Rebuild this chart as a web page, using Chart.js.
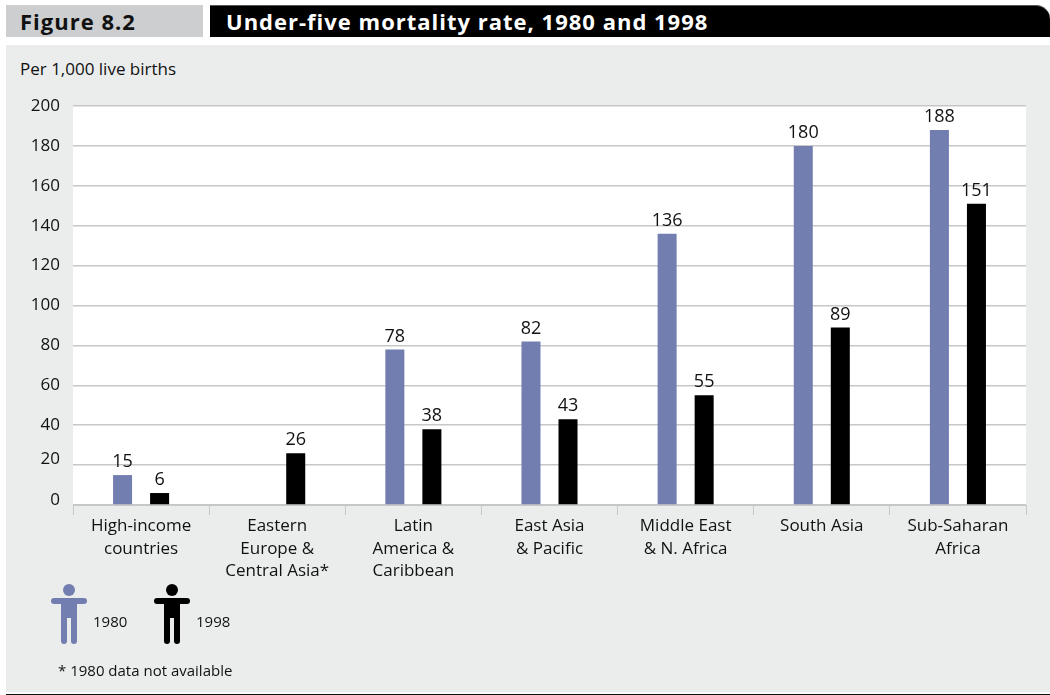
<!DOCTYPE html>
<html>
<head>
<meta charset="utf-8">
<title>Under-five mortality rate, 1980 and 1998</title>
<script src="https://cdn.jsdelivr.net/npm/chart.js@4"></script>
<style>
html,body{margin:0;padding:0;background:#fff}
body{width:1050px;height:695px;position:relative;overflow:hidden;font-family:"Open Sans",sans-serif;color:#111}
.abs{position:absolute}
#figbox{left:6px;top:5px;width:197px;height:32px;background:#cdced0;font-weight:700;font-size:22px;letter-spacing:1px;line-height:32px;text-indent:14px;color:#111}
#titlebox{left:210px;top:5px;width:840px;height:32px;background:#000;border-top:1px solid #555;box-sizing:border-box;border-top-right-radius:14px;font-weight:700;font-size:22px;letter-spacing:1px;line-height:31px;text-indent:16px;color:#fff}
#panel{left:6px;top:45px;width:1044px;height:647px;background:#ebeded}
#rule{left:6px;top:694px;width:1044px;height:1px;background:#111}
#unit{left:20px;top:58px;font-size:17px;line-height:22px}
canvas{position:absolute;left:0;top:0}
.leg{font-size:15px;line-height:18px}
#note{left:58px;top:661px;font-size:15px;line-height:18px}
</style>
</head>
<body>
<div class="abs" id="figbox">Figure 8.2</div>
<div class="abs" id="titlebox">Under-five mortality rate, 1980 and 1998</div>
<div class="abs" id="panel"></div>
<div class="abs" id="rule"></div>
<div class="abs" id="unit">Per 1,000 live births</div>
<div id="wrap" class="abs" style="left:0;top:0;width:1050px;height:695px"><canvas id="chart"></canvas></div>
<svg class="abs" style="left:50px;top:583px" width="40" height="62" id="ic80"></svg>
<svg class="abs" style="left:153px;top:583px" width="40" height="62" id="ic98"></svg>
<div class="abs leg" style="left:93px;top:612px">1980</div>
<div class="abs leg" style="left:196px;top:612px">1998</div>
<div class="abs" id="note">* 1980 data not available</div>
<script>
/* data */
const categories=[['High-income','countries'],['Eastern','Europe &','Central Asia*'],['Latin','America &','Caribbean'],['East Asia','& Pacific'],['Middle East','& N. Africa'],'South Asia',['Sub-Saharan','Africa']];
const values1980=[15,null,78,82,136,180,188];
const values1998=[6,26,38,43,55,89,151];
const seriesNames=['1980','1998'];
const yTicks=[0,20,40,60,80,100,120,140,160,180,200];

const BLUE='#727eb0',BLACK='#000',GRID='#c6c8c8',FONT='"Open Sans",sans-serif';

/* legend figures */
function $(id){return document.getElementById(id);}
function person(id,col){
  $(id).innerHTML=`<circle cx="19" cy="7" r="6" fill="${col}"/>
  <rect x="1" y="15" width="36" height="6" rx="3" fill="${col}"/>
  <path d="M11 17h16v41a3 3 0 0 1-6 0V35h-4v23a3 3 0 0 1-6 0z" fill="${col}"/>`;
}
person('ic80',BLUE);person('ic98',BLACK);

const plotBg={id:'plotBg',beforeDraw(c){
  const a=c.chartArea,x=c.ctx;
  x.save();x.fillStyle='#fff';x.fillRect(a.left,a.top,a.right-a.left,a.bottom-a.top);x.restore();
}};
const barValues={id:'barValues',afterDatasetsDraw(c){
  const x=c.ctx;
  x.save();x.font='18px '+FONT;x.fillStyle='#111';x.textAlign='center';x.textBaseline='bottom';
  c.data.datasets.forEach((ds,i)=>{
    c.getDatasetMeta(i).data.forEach((b,j)=>{
      if(ds.data[j]==null)return;
      x.fillText(ds.data[j],b.x,b.y-4);
    });
  });
  x.restore();
}};

new Chart($('chart'),{
  type:'bar',
  data:{labels:categories,datasets:[
    {label:seriesNames[0],data:values1980,backgroundColor:BLUE},
    {label:seriesNames[1],data:values1998,backgroundColor:BLACK}
  ]},
  options:{
    responsive:true,maintainAspectRatio:false,animation:false,
    layout:{padding:{left:0,right:24,top:106,bottom:0}},
    datasets:{bar:{categoryPercentage:.544,barPercentage:.5135}},
    plugins:{legend:{display:false},tooltip:{enabled:false}},
    scales:{
      x:{
        afterFit(s){s.height=190;},
        grid:{display:true,drawOnChartArea:false,drawTicks:true,tickLength:10,color:GRID,offset:true},
        border:{color:GRID},
        ticks:{color:'#111',font:{size:17,family:FONT,lineHeight:1.32},maxRotation:0,autoSkip:false,padding:0}
      },
      y:{
        min:0,max:200,
        afterFit(s){
          s.width=73;
          // the two lowest labels sit a little above their gridlines in the original
          if(s._nudged)return;
          s._nudged=true;
          const f=s._computeLabelItems;
          s._computeLabelItems=function(a){
            const items=f.call(this,a);
            items.forEach(it=>{
              if(it.label==='0')it.options.translation[1]-=5;
              if(it.label==='20')it.options.translation[1]-=6;
            });
            return items;
          };
        },
        afterBuildTicks(s){s.ticks=yTicks.map(v=>({value:v}));},
        grid:{color:GRID,lineWidth:1.5,drawTicks:false},
        border:{display:false},
        ticks:{color:'#111',font:{size:17,family:FONT},padding:13}
      }
    }
  },
  plugins:[plotBg,barValues]
});
</script>
</body>
</html>
